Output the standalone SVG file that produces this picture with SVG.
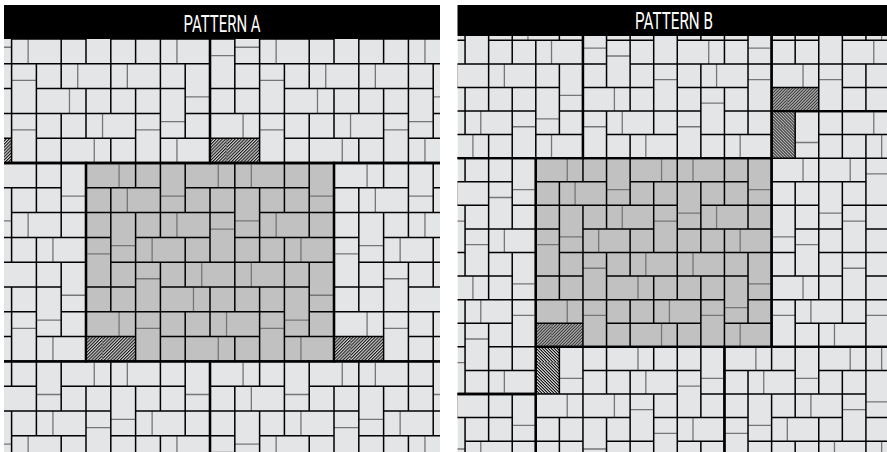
<svg xmlns="http://www.w3.org/2000/svg" xmlns:xlink="http://www.w3.org/1999/xlink" width="887" height="452" viewBox="0 0 887 452">
<defs>
<style>
.k{fill:none;stroke:#000;stroke-width:1.5;vector-effect:non-scaling-stroke;stroke-linecap:square}
.g{fill:none;stroke:#767676;stroke-width:1.3;vector-effect:non-scaling-stroke}
.b{fill:none;stroke:#000;stroke-width:2.3;vector-effect:non-scaling-stroke}
.h{fill:url(#hatch)}
.hd{fill:#000}
.tt{fill:#fff;font-family:Roboto,"Liberation Sans",sans-serif;font-size:23.5px;text-anchor:middle}
.lt{fill:#e4e5e7}
.dk{fill:#c1c1c1}
</style>
<pattern id="hatch" patternUnits="userSpaceOnUse" width="0.27" height="0.27" patternTransform="rotate(45)">
<rect width="0.27" height="0.27" fill="#d4d4d4"/>
<rect width="0.13" height="0.27" fill="#151515"/>
</pattern>
<clipPath id="cA"><rect x="4" y="39" width="436" height="413"/></clipPath>
<clipPath id="cB"><rect x="457.5" y="36" width="429.5" height="416"/></clipPath>
<g id="mod">
<rect class="h" x="0" y="21" width="6" height="3"/>
<path class="g" d="M4 0V3M4 18V21M5 3V6M2 21V24M8 9V12M11 6V9M13 15V18M14 12V15M16 0V3M16 21V24M17 18V21M20 0V3M20 12V15M23 6V9M26 9V12M26 21V24M9 4H12M27 4H30M18 7H21M15 8H18M3 10H6M0 11H3M6 14H9M27 16H30M24 19H27M6 20H9M21 20H24"/>
<path class="k" d="M3 3V18M6 0V3M6 6V24M9 0V9M9 12V24M12 0V6M12 9V15M12 18V24M15 3V12M15 15V21M18 0V18M18 21V24M21 3V12M21 15V24M24 0V6M24 9V24M27 0V9M27 12V21M0 3H9M12 3H27M0 6H18M21 6H30M0 9H3M6 9H15M18 9H30M3 12H30M0 15H6M9 15H27M0 18H24M27 18H30M0 21H6M9 21H21M24 21H30"/>
<rect class="b" x="0" y="0" width="30" height="24"/>
</g>
</defs>
<rect width="887" height="452" fill="#fff"/>
<g id="patternA">
<g clip-path="url(#cA)">
<rect class="lt" x="4" y="39" width="436" height="413"/>
<g transform="translate(86,163) scale(8.267)">
<rect class="dk" x="0" y="0" width="30" height="24"/>
<g id="modulesA">
<use href="#mod" x="-15" y="-24"/>
<use href="#mod" x="15" y="-24"/>
<use href="#mod" x="-30" y="0"/>
<use href="#mod" x="0" y="0"/>
<use href="#mod" x="30" y="0"/>
<use href="#mod" x="-15" y="24"/>
<use href="#mod" x="15" y="24"/>
</g>
</g>
</g>
<g id="headerA">
<rect class="hd" x="4" y="5" width="436" height="34"/>
<text class="tt" x="222" y="31.7" textLength="77" lengthAdjust="spacingAndGlyphs">PATTERN A</text>
</g>
</g>
<g id="patternB">
<g clip-path="url(#cB)">
<rect class="lt" x="457.5" y="36" width="429.5" height="416"/>
<g transform="translate(535.8,158.2) scale(7.86)">
<rect class="dk" x="0" y="0" width="30" height="24"/>
<g id="modulesB">
<use href="#mod" x="0" y="0"/>
<use href="#mod" x="24" y="24"/>
<use href="#mod" x="-24" y="-24"/>
<use href="#mod" x="30" y="-30"/>
<use href="#mod" x="-30" y="30"/>
<use href="#mod" transform="translate(24,24) rotate(90)"/>
<use href="#mod" transform="translate(0,0) rotate(90)"/>
<use href="#mod" transform="translate(54,-6) rotate(90)"/>
<use href="#mod" transform="translate(30,-30) rotate(90)"/>
</g>
</g>
</g>
<g id="headerB">
<rect class="hd" x="457.5" y="5" width="429.5" height="31"/>
<text class="tt" x="674" y="29.3" textLength="78" lengthAdjust="spacingAndGlyphs">PATTERN B</text>
</g>
</g>
</svg>
